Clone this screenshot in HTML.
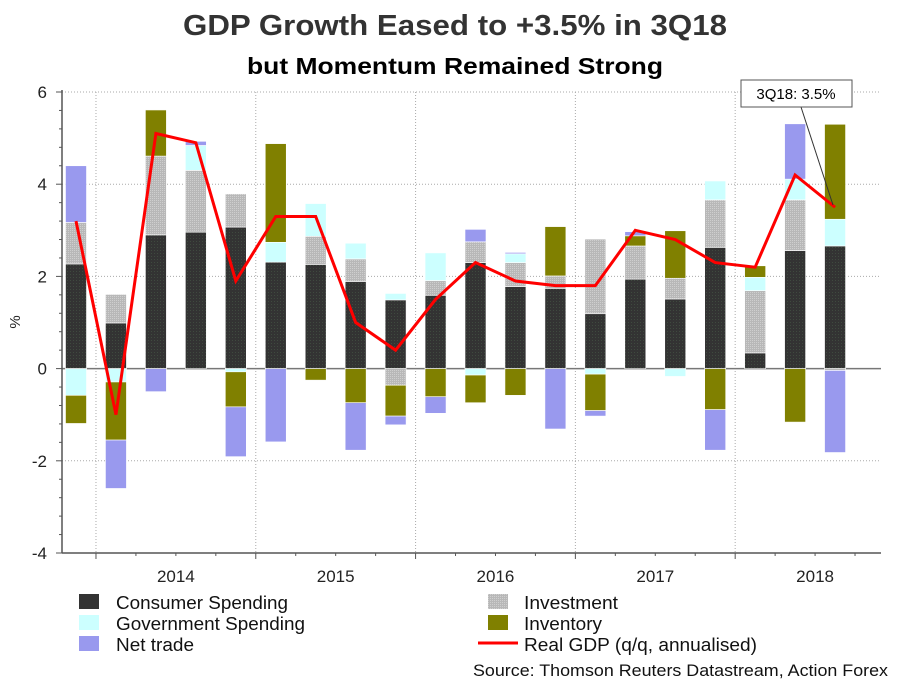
<!DOCTYPE html>
<html><head><meta charset="utf-8"><style>
body{margin:0;background:#fff;}
svg{display:block;font-family:"Liberation Sans",Arial,sans-serif;}
</style></head><body>
<svg id="chart" width="909" height="682" viewBox="0 0 909 682" xmlns="http://www.w3.org/2000/svg">
<defs>
<pattern id="dots" width="3" height="3" patternUnits="userSpaceOnUse"><rect width="3" height="3" fill="#333"/><rect x="1" y="1" width="1" height="1" fill="#3f4a3f"/></pattern>
<pattern id="gdots" width="2" height="2" patternUnits="userSpaceOnUse"><rect width="2" height="2" fill="#b8b8b8"/><rect width="1" height="1" fill="#cfcfcf"/></pattern>
</defs>
<text x="455" y="35" text-anchor="middle" font-size="29" font-weight="bold" fill="#333" textLength="544" lengthAdjust="spacingAndGlyphs">GDP Growth Eased to +3.5% in 3Q18</text>
<text x="455" y="74" text-anchor="middle" font-size="23" font-weight="bold" fill="#000" textLength="416" lengthAdjust="spacingAndGlyphs">but Momentum Remained Strong</text>
<g id="grid"></g>
<g id="bars"></g>
<g id="line"></g>
<g id="axes"></g>
<text transform="translate(20,322) rotate(-90)" text-anchor="middle" font-size="15" fill="#222">%</text>
<g>
<line x1="801" y1="107" x2="833" y2="205" stroke="#333" stroke-width="1"/>
<rect x="741" y="80" width="111" height="27" fill="#fff" stroke="#555" stroke-width="1"/>
<text x="796" y="99" text-anchor="middle" font-size="15" fill="#000">3Q18: 3.5%</text>
</g>
<g font-size="18" fill="#111">
<g><rect x="79" y="594" width="20" height="15" fill="#333"/><text x="116" y="609" textLength="172" lengthAdjust="spacingAndGlyphs">Consumer Spending</text></g>
<g><rect x="79" y="615" width="20" height="15" fill="#ccffff"/><text x="116" y="630" textLength="189" lengthAdjust="spacingAndGlyphs">Government Spending</text></g>
<g><rect x="79" y="636" width="20" height="15" fill="#9999ee"/><text x="116" y="651" textLength="78" lengthAdjust="spacingAndGlyphs">Net trade</text></g>
<g><rect x="488" y="594" width="20" height="15" fill="url(#gdots)"/><text x="524" y="609" textLength="94" lengthAdjust="spacingAndGlyphs">Investment</text></g>
<g><rect x="488" y="615" width="20" height="15" fill="#808000"/><text x="524" y="630" textLength="78" lengthAdjust="spacingAndGlyphs">Inventory</text></g>
<g><line x1="478" y1="643" x2="518" y2="643" stroke="red" stroke-width="3"/><text x="524" y="651" textLength="233" lengthAdjust="spacingAndGlyphs">Real GDP (q/q, annualised)</text></g>
</g>
<text x="888" y="676" text-anchor="end" font-size="17" fill="#111" textLength="415" lengthAdjust="spacingAndGlyphs">Source: Thomson Reuters Datastream, Action Forex</text>
</svg>
<script>
const quarters=["4Q13","1Q14","2Q14","3Q14","4Q14","1Q15","2Q15","3Q15","4Q15","1Q16","2Q16","3Q16","4Q16","1Q17","2Q17","3Q17","4Q17","1Q18","2Q18","3Q18"];
const consumer=[2.27,0.99,2.9,2.96,3.07,2.31,2.26,1.89,1.49,1.59,2.30,1.78,1.74,1.19,1.94,1.51,2.63,0.34,2.56,2.66];
const investment=[0.90,0.62,1.71,1.34,0.72,0,0.61,0.49,-0.36,0.32,0.45,0.52,0.27,1.62,0.72,0.45,1.03,1.35,1.1,-0.04];
const government=[-0.58,-0.29,0,0.54,-0.07,0.43,0.71,0.34,0.14,0.6,-0.14,0.19,0,-0.12,0,-0.17,0.41,0.29,0.45,0.58];
const inventory=[-0.61,-1.26,1.0,0,-0.76,2.14,-0.25,-0.74,-0.67,-0.61,-0.6,-0.58,1.07,-0.79,0.22,1.03,-0.89,0.25,-1.16,2.06];
const netTrade=[1.23,-1.05,-0.5,0.09,-1.08,-1.59,0,-1.03,-0.19,-0.36,0.27,0.03,-1.31,-0.12,0.09,0,-0.88,0,1.2,-1.78];
const realGdp=[3.2,-1.0,5.1,4.9,1.9,3.3,3.3,1.0,0.4,1.5,2.3,1.9,1.8,1.8,3.0,2.8,2.3,2.2,4.2,3.5];
const yTicks=[-4,-2,0,2,4,6];
const yearLabels=["2014","2015","2016","2017","2018"];

const NS="http://www.w3.org/2000/svg";
const X0=62,X1=881,Y0=553,Y1=92,VMIN=-4,VMAX=6,FIRST=76,STEP=39.95,BW=21;
const y=v=>Y0-(v-VMIN)/(VMAX-VMIN)*(Y0-Y1);
const x=i=>FIRST+i*STEP;
function mk(tag,attrs,parent){const e=document.createElementNS(NS,tag);for(const k in attrs)e.setAttribute(k,attrs[k]);parent.appendChild(e);return e;}
const grid=document.getElementById('grid'),bars=document.getElementById('bars'),lineG=document.getElementById('line'),axes=document.getElementById('axes');
yTicks.forEach(t=>{
  if(t===0||t===VMIN)return;
  const l=mk('line',{x1:X0,x2:X1,y1:y(t),y2:y(t),stroke:'#aaa','stroke-dasharray':'1,2'},grid);
  
  
});
yearLabels.forEach((yl,k)=>{
  const gx=x(k*4+1)-STEP/2;
  const l=mk('line',{x1:gx,x2:gx,y1:Y1,y2:Y0,stroke:'#aaa','stroke-dasharray':'1,2'},grid);
  
  
  const t=mk('text',{x:gx+STEP*2,y:582,'text-anchor':'middle','font-size':17,fill:'#222'},axes);
  t.textContent=yl;
  
  
});
const series=[[consumer,'url(#dots)','consumer'],[investment,'url(#gdots)','investment'],[government,'#ccffff','government'],[inventory,'#808000','inventory'],[netTrade,'#9999ee','net-trade']];
quarters.forEach((q,i)=>{
  let pos=0,neg=0;
  series.forEach(([arr,col,nm])=>{
    const v=arr[i];if(!v)return;
    let a,b;
    if(v>0){a=pos;b=pos+v;pos=b;}else{a=neg;b=neg+v;neg=b;}
    const top=y(Math.max(a,b)),bot=y(Math.min(a,b));
    const r=mk('rect',{x:x(i)-BW/2,y:top,width:BW,height:Math.max(bot-top,0.5),fill:col,stroke:'#fff','stroke-width':0.6},bars);
    
    
  });
});
const z=mk('line',{x1:X0,x2:X1,y1:y(0),y2:y(0),stroke:'#777','stroke-width':1.5},grid);


const pl=mk('polyline',{points:realGdp.map((v,i)=>x(i)+','+y(v)).join(' '),fill:'none',stroke:'red','stroke-width':3,'stroke-linejoin':'miter'},lineG);


const ya=mk('line',{x1:X0,x2:X0,y1:Y1-2,y2:Y0,stroke:'#555','stroke-width':1.5},axes);


const xa=mk('line',{x1:X0,x2:X1,y1:Y0,y2:Y0,stroke:'#555','stroke-width':1.5},axes);


for(let v=VMIN;v<=VMAX+0.001;v+=0.4){
  const major=Math.abs(v-Math.round(v/2)*2)<0.01;
  const t=mk('line',{x1:X0-(major?6:3),x2:X0,y1:y(v),y2:y(v),stroke:'#555'},axes);
  
  
}
yTicks.forEach(v=>{
  const t=mk('text',{x:47,y:y(v)+6,'text-anchor':'end','font-size':17,fill:'#222'},axes);
  t.textContent=v;
  
  
});
for(let i=0;i<=quarters.length;i++){
  const gx=x(i)-STEP/2;
  if(gx<X0)continue;
  const major=(i%4===1);
  const t=mk('line',{x1:gx,x2:gx,y1:Y0,y2:Y0+(major?6:3),stroke:'#555'},axes);
  
  
}
</script>
</body></html>
